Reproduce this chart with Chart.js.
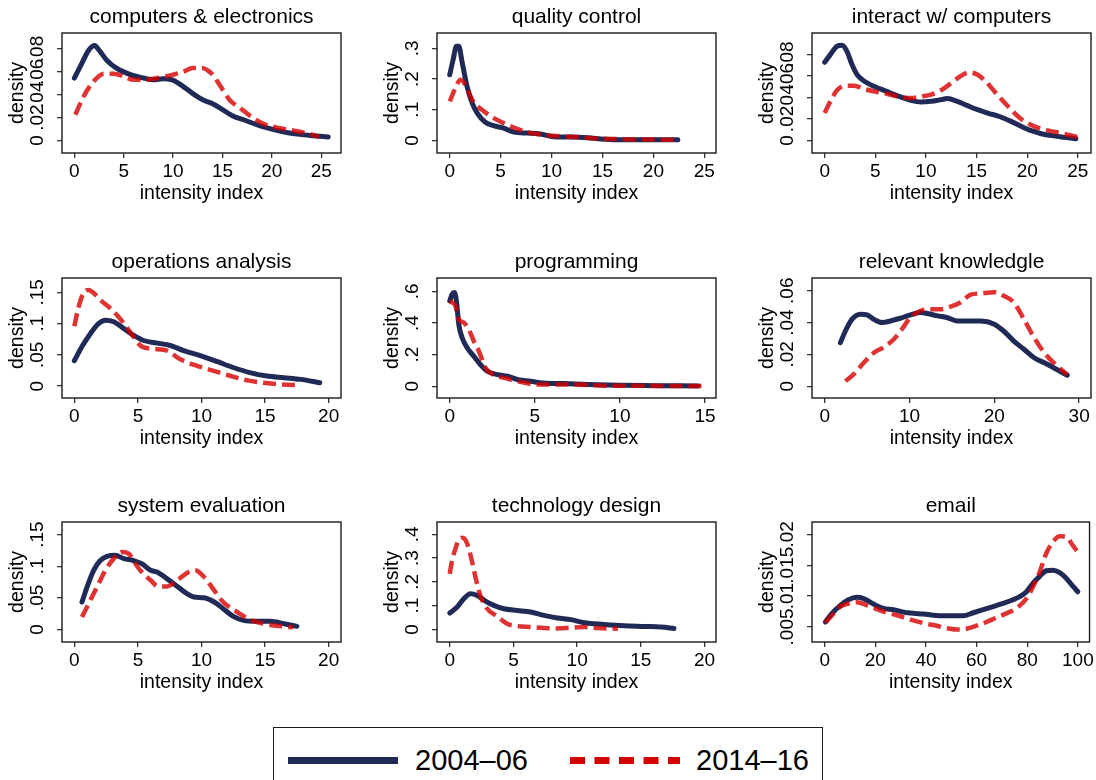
<!DOCTYPE html>
<html>
<head>
<meta charset="utf-8">
<script src="https://cdn.jsdelivr.net/npm/chart.js@4.4.1/dist/chart.umd.min.js"></script>
<style>
  body { margin: 0; background: #fff; width: 1096px; height: 780px; position: relative; overflow: hidden;
         font-family: 'Liberation Sans', Arial, sans-serif; }
  canvas.panel { position: absolute; }
  #legend { position: absolute; left: 273px; top: 727px; width: 550px; height: 70px;
            border: 1.5px solid #1a1a1a; box-sizing: border-box; }
  #legend svg { position: absolute; left: 0; top: 0; }
  #legend span { position: absolute; top: 14px; font-size: 29px; line-height: 36px; color: #000; }
</style>
</head>
<body>
<div id="legend">
  <svg width="550" height="70">
    <line x1="14" y1="32.5" x2="124" y2="32.5" stroke="#1f2a57" stroke-width="7"/>
    <line x1="296" y1="32.5" x2="406" y2="32.5" stroke="#d40000" stroke-width="7" stroke-dasharray="15 9.5"/>
  </svg>
  <span style="left:141px">2004–06</span>
  <span style="left:422px">2014–16</span>
</div>
<script>
// --- Series: [intensity index, density] ---
const compElec04 = [[0,0.0546],[0.77,0.0677],[1.45,0.079],[2.05,0.083],[2.5,0.079],[3.3,0.070],[4.3,0.063],[5,0.060],[6,0.0566],[7,0.0546],[8,0.053],[9,0.054],[9.9,0.053],[10.9,0.048],[12,0.041],[13,0.0356],[14,0.032],[15,0.027],[16,0.0216],[17.4,0.0172],[18.8,0.0128],[20,0.0099],[21.5,0.007],[22.8,0.0053],[24.2,0.0041],[25.7,0.003]];
const compElec14 = [[0.1,0.0225],[0.94,0.0385],[1.95,0.0517],[3,0.0584],[4,0.0584],[5,0.056],[6,0.053],[7,0.053],[8,0.054],[9,0.0555],[10,0.0575],[11,0.060],[12,0.0634],[12.9,0.0634],[13.9,0.0584],[14.7,0.0488],[15.7,0.0356],[16.8,0.0283],[18.1,0.0196],[19.4,0.0137],[20.8,0.0108],[22.1,0.0088],[23.5,0.0064],[24.8,0.003]];

const quality04 = [[0,0.214],[0.33,0.263],[0.66,0.307],[0.89,0.307],[1.2,0.258],[1.7,0.176],[2.2,0.122],[2.7,0.089],[3.5,0.059],[4.3,0.048],[5.3,0.040],[6.3,0.027],[7.6,0.024],[8.9,0.021],[10.4,0.011],[11.9,0.011],[13.5,0.009],[15.2,0.004],[17.1,0.002],[19.1,0.002],[21.1,0.002],[22.4,0.002]];
const quality14 = [[0,0.127],[0.56,0.171],[1.05,0.198],[1.54,0.181],[2.2,0.133],[3.35,0.095],[4.66,0.067],[6,0.046],[7.6,0.027],[9.25,0.018],[10.9,0.013],[12.5,0.011],[14.5,0.0065],[16.8,0.004],[19.1,0.003],[22.4,0.002]];

const interact04 = [[0,0.0729],[0.56,0.080],[1.22,0.0878],[1.72,0.0887],[2.2,0.083],[2.7,0.0707],[3.2,0.0613],[3.7,0.0567],[4.5,0.052],[5.5,0.048],[6.5,0.0442],[7.5,0.0405],[8.5,0.0374],[9.5,0.0358],[10.5,0.0364],[11.5,0.038],[12.1,0.039],[13.1,0.0364],[14.1,0.0324],[15.1,0.0286],[16.1,0.0255],[17.4,0.0218],[18.4,0.0177],[19.4,0.0131],[20.4,0.009],[21.4,0.0062],[22.4,0.0044],[23.7,0.0028],[24.8,0.0016]];
const interact14 = [[0,0.0255],[0.56,0.0364],[1.22,0.0467],[2.05,0.051],[2.9,0.051],[3.9,0.048],[4.85,0.0458],[6.2,0.0433],[7.5,0.0405],[8.5,0.0395],[9.6,0.041],[10.5,0.0427],[11.5,0.0467],[12.5,0.0535],[13.4,0.0598],[14.3,0.0635],[15.1,0.0613],[15.9,0.0551],[16.9,0.0442],[18.1,0.0318],[19.4,0.02],[20.7,0.0131],[22,0.0093],[23.3,0.0068],[25,0.0031]];

const operations04 = [[0,0.0406],[0.6,0.0633],[1.26,0.0839],[1.9,0.100],[2.44,0.1056],[3.1,0.1029],[3.9,0.092],[4.67,0.0812],[5.45,0.073],[6.5,0.0688],[7.55,0.065],[8.6,0.0568],[9.9,0.0487],[11.2,0.0395],[12.5,0.0298],[13.8,0.0217],[15.15,0.0162],[16.5,0.0135],[17.8,0.0108],[19.3,0.0054]];
const operations14 = [[0,0.0958],[0.34,0.127],[0.73,0.149],[1.13,0.154],[1.52,0.149],[2.04,0.138],[2.7,0.127],[3.35,0.1137],[4,0.0975],[4.67,0.0785],[5.3,0.0633],[6.2,0.0596],[7.3,0.0568],[8.3,0.0433],[9.65,0.0325],[10.96,0.0244],[12.3,0.0162],[13.6,0.0092],[14.9,0.0054],[16.2,0.0027],[17.8,0.0016]];

const programming04 = [[0,0.54],[0.14,0.583],[0.27,0.594],[0.39,0.54],[0.53,0.392],[0.73,0.307],[1.02,0.244],[1.41,0.191],[1.8,0.138],[2.2,0.095],[2.8,0.074],[3.4,0.064],[4,0.042],[4.75,0.032],[5.5,0.021],[6.7,0.017],[8.1,0.011],[10,0.006],[12,0.004],[14.6,0.002]];
const programming14 = [[0,0.54],[0.14,0.53],[0.33,0.51],[0.53,0.424],[0.82,0.403],[1.12,0.36],[1.41,0.286],[1.71,0.223],[2.1,0.117],[2.5,0.078],[3.2,0.053],[4,0.032],[5.15,0.011],[6.3,0.011],[7.5,0.011],[9.1,0.004],[11,0.004],[13,0.002],[14.8,0.002]];

const knowledge04 = [[1.85,0.0274],[2.44,0.0347],[3.2,0.042],[4.2,0.0453],[5,0.0448],[5.8,0.042],[6.8,0.040],[7.75,0.041],[8.9,0.0427],[10.1,0.0448],[11.3,0.0463],[12.1,0.0457],[13.3,0.0442],[14.4,0.0432],[15.6,0.041],[17.2,0.041],[18.4,0.041],[20,0.039],[21.1,0.0347],[22.3,0.0284],[23.5,0.0232],[24.7,0.0179],[25.9,0.0147],[27,0.0116],[28.6,0.0069]];
const knowledge14 = [[2.44,0.0032],[3.4,0.0074],[4.6,0.0147],[5.8,0.021],[7,0.0246],[8.15,0.0295],[9.1,0.0358],[10.1,0.0432],[11.3,0.0474],[12.5,0.0484],[13.7,0.0484],[14.8,0.0499],[16,0.0526],[17.2,0.0575],[18.4,0.0583],[20,0.059],[21.1,0.0568],[22.3,0.0526],[23.5,0.042],[24.7,0.0305],[25.9,0.021],[27.2,0.0137],[28.6,0.0074]];

const sysEval04 = [[0.6,0.0433],[1,0.067],[1.52,0.0935],[2.04,0.109],[2.57,0.1157],[3.22,0.1173],[3.9,0.112],[4.67,0.109],[5.3,0.104],[6,0.0935],[6.5,0.0909],[7.3,0.080],[8.1,0.068],[8.86,0.0565],[9.4,0.0512],[10.2,0.050],[11,0.0433],[11.7,0.0328],[12.5,0.0206],[13.3,0.0143],[14.4,0.0127],[15.4,0.0127],[16.5,0.009],[17.5,0.0048]];
const sysEval14 = [[0.6,0.0195],[1.13,0.0407],[1.78,0.067],[2.44,0.0935],[3.1,0.112],[3.75,0.1226],[4.27,0.12],[4.8,0.104],[5.3,0.0909],[6,0.0777],[6.6,0.068],[7.3,0.068],[8.1,0.0777],[8.86,0.0893],[9.5,0.0935],[10.2,0.083],[11,0.0618],[11.7,0.0433],[12.8,0.0275],[13.8,0.0153],[14.9,0.009],[15.9,0.0058],[17.2,0.0032]];

const techDesign04 = [[0,0.069],[0.58,0.094],[1.1,0.129],[1.63,0.150],[2.15,0.143],[2.8,0.119],[3.46,0.101],[4.25,0.087],[5.3,0.080],[6.35,0.073],[7.4,0.059],[8.45,0.048],[9.5,0.041],[10.55,0.028],[12.1,0.021],[13.7,0.0154],[15.3,0.0126],[16.6,0.0098],[17.6,0.004]];
const techDesign14 = [[0,0.234],[0.18,0.29],[0.45,0.34],[0.7,0.375],[0.97,0.386],[1.23,0.377],[1.5,0.34],[1.76,0.283],[2.02,0.22],[2.4,0.143],[2.94,0.087],[3.73,0.055],[4.5,0.024],[5.3,0.014],[6.35,0.0098],[7.4,0.0056],[8.45,0.0042],[9.5,0.007],[10.55,0.0098],[11.6,0.0056],[13.2,0.0028]];

const email04 = [[0.26,0.0058],[2.9,0.0072],[6.2,0.0085],[9.4,0.0094],[12.7,0.0098],[15.4,0.0096],[19.3,0.0087],[23.2,0.008],[27.2,0.0078],[31.1,0.0074],[35,0.0072],[39,0.0071],[42.9,0.0069],[46.9,0.0068],[50.8,0.0068],[54.7,0.0068],[58.7,0.0073],[62.6,0.0078],[66.5,0.0083],[70.5,0.0088],[74.4,0.0094],[77,0.0099],[79.7,0.0107],[82.3,0.0121],[84.9,0.0132],[87.5,0.0141],[90.2,0.0142],[92.8,0.0138],[95.4,0.0129],[98,0.0116],[100,0.0107]];
const email14 = [[0.26,0.0057],[2.9,0.0069],[6.2,0.0083],[9.4,0.0088],[12.7,0.009],[16.7,0.0085],[20.6,0.0079],[24.5,0.0073],[28.5,0.0069],[32.4,0.0064],[36.4,0.0059],[40.3,0.0055],[44.2,0.0052],[48.2,0.0048],[52.1,0.0046],[56,0.0047],[60,0.0052],[63.9,0.0058],[67.8,0.0065],[71.8,0.0072],[75.7,0.008],[79.7,0.0096],[82.3,0.0115],[84.9,0.0139],[87.5,0.0169],[90.2,0.0188],[92.8,0.0197],[95.4,0.0196],[98,0.0182],[100,0.0171]];

// --- Panel titles, axis ranges and tick labels ---
const titles = ['computers & electronics', 'quality control', 'interact w/ computers',
                'operations analysis', 'programming', 'relevant knowledgle',
                'system evaluation', 'technology design', 'email'];
const xTickSets = [[0,5,10,15,20,25], [0,5,10,15,20,25], [0,5,10,15,20,25],
                   [0,5,10,15,20], [0,5,10,15], [0,10,20,30],
                   [0,5,10,15,20], [0,5,10,15,20], [0,20,40,60,80,100]];
const yTickLabelSets = [['0','.02','.04','.06','.08'], ['0','.1','.2','.3'], ['0','.02','.04','.06','.08'],
                        ['0','.05','.1','.15'], ['0','.2','.4','.6'], ['0','.02','.04','.06'],
                        ['0','.05','.1','.15'], ['0','.1','.2','.3','.4'], ['.005','.01','.015','.02']];
const xRanges = [[-1.25,27.0], [-1.25,26.15], [-1.25,26.3], [-0.97,20.97], [-0.75,15.65], [-1.5,31.4],
                 [-0.97,20.97], [-1.0,20.9], [-5,104.6]];
const yRanges = [[-0.011,0.094], [-0.041,0.35], [-0.0118,0.1002], [-0.019,0.173], [-0.074,0.685], [-0.0074,0.068],
                 [-0.02,0.17], [-0.053,0.452], [0.00256,0.022]];
const series04 = [compElec04, quality04, interact04, operations04, programming04, knowledge04, sysEval04, techDesign04, email04];
const series14 = [compElec14, quality14, interact14, operations14, programming14, knowledge14, sysEval14, techDesign14, email14];

// --- Styling / layout ---
const NAVY = '#1f2a57';
const RED = 'rgba(215, 0, 0, 0.8)';
const FONT = "'Liberation Sans', Arial, sans-serif";
const TICK_SIZE = 19;
const COL_LEFT = [0, 375, 750];
const ROW_TOP = [0, 245, 489];
const Y_AXIS_W = 62, X_AXIS_H = 52;

Chart.defaults.font.family = FONT;
Chart.defaults.color = '#000';

const measure = document.createElement('canvas').getContext('2d');
measure.font = TICK_SIZE + 'px ' + FONT;
const widestLabel = labels => Math.max(...labels.map(l => measure.measureText(l).width));

// box round the plot region
const frame = {
    id: 'frame',
    afterDraw(chart) {
        const { ctx, chartArea: a } = chart;
        ctx.save();
        ctx.strokeStyle = '#1a1a1a';
        ctx.lineWidth = 1.4;
        ctx.strokeRect(a.left, a.top, a.right - a.left, a.bottom - a.top);
        ctx.restore();
    }
};

const tickGrid = { display: true, drawOnChartArea: false, drawTicks: true, tickLength: 5, color: '#333', lineWidth: 1.3 };

titles.forEach((title, i) => {
    const canvas = document.createElement('canvas');
    canvas.className = 'panel';
    canvas.width = 346;
    canvas.height = 205;
    canvas.style.left = COL_LEFT[i % 3] + 'px';
    canvas.style.top = ROW_TOP[Math.floor(i / 3)] + 'px';
    document.body.appendChild(canvas);

    const yLabels = yTickLabelSets[i];
    const yTicks = yLabels.map(Number);
    const xTicks = xTickSets[i];
    const yPad = 19.5 - widestLabel(yLabels) / 2;

    new Chart(canvas, {
        type: 'line',
        data: {
            datasets: [
                {
                    label: '2014–16',
                    data: series14[i].map(([x, y]) => ({ x, y })),
                    borderColor: RED,
                    borderWidth: 4.5,
                    borderDash: [13, 6],
                    borderCapStyle: 'butt',
                    order: 0
                },
                {
                    label: '2004–06',
                    data: series04[i].map(([x, y]) => ({ x, y })),
                    borderColor: NAVY,
                    borderWidth: 5,
                    borderCapStyle: 'round',
                    order: 1
                }
            ]
        },
        options: {
            responsive: false,
            animation: false,
            devicePixelRatio: 1,
            layout: { padding: { left: 0, right: 5, top: 0, bottom: 0 } },
            elements: {
                point: { radius: 0 },
                line: { cubicInterpolationMode: 'monotone', fill: false }
            },
            plugins: {
                legend: { display: false },
                tooltip: { enabled: false },
                title: {
                    display: true,
                    text: title,
                    fullSize: false,
                    color: '#000',
                    font: { size: 21, weight: 'normal' },
                    padding: { top: 5, bottom: 2.8 }
                }
            },
            scales: {
                x: {
                    type: 'linear',
                    min: xRanges[i][0],
                    max: xRanges[i][1],
                    afterBuildTicks: s => { s.ticks = xTicks.map(v => ({ value: v })); },
                    afterFit: s => { s.height = X_AXIS_H; },
                    ticks: { autoSkip: false, maxRotation: 0, padding: 2, font: { size: TICK_SIZE }, callback: v => String(v) },
                    grid: tickGrid,
                    border: { display: false },
                    title: { display: true, text: 'intensity index', font: { size: 19.5 }, padding: { top: 0, bottom: 0 } }
                },
                y: {
                    type: 'linear',
                    min: yRanges[i][0],
                    max: yRanges[i][1],
                    afterBuildTicks: s => { s.ticks = yTicks.map(v => ({ value: v })); },
                    afterFit: s => { s.width = Y_AXIS_W; },
                    ticks: {
                        autoSkip: false,
                        minRotation: 90,
                        maxRotation: 90,
                        crossAlign: 'center',
                        padding: yPad,
                        font: { size: TICK_SIZE },
                        callback: (v, idx) => yLabels[idx]
                    },
                    grid: tickGrid,
                    border: { display: false },
                    title: { display: true, text: 'density', font: { size: 19.5 }, padding: { top: 6, bottom: 0 } }
                }
            }
        },
        plugins: [frame]
    });
});
</script>
</body>
</html>
